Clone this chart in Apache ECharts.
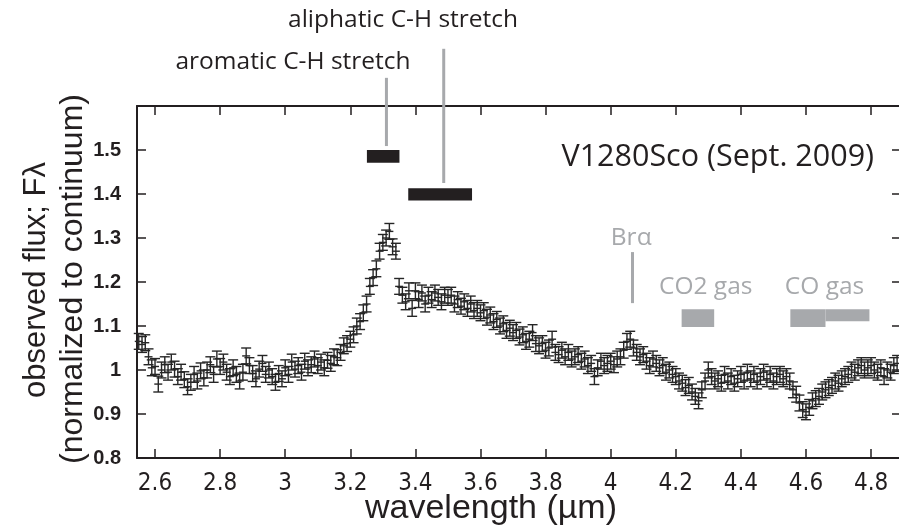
<!DOCTYPE html>
<html>
<head>
<meta charset="utf-8">
<script src="https://cdn.jsdelivr.net/npm/echarts@6/dist/echarts.min.js"></script>
<style>
  html, body { margin: 0; background: #fff; }
  #main { width: 899px; height: 529px; }
</style>
</head>
<body>
<div id="main"></div>
<script>
// wavelength grid (µm) and normalised flux
var wavelength = [
  2.55, 2.56, 2.57, 2.58, 2.59,
  2.60, 2.61, 2.62, 2.63, 2.64, 2.65, 2.66, 2.67, 2.68, 2.69,
  2.70, 2.71, 2.72, 2.73, 2.74, 2.75, 2.76, 2.77, 2.78, 2.79,
  2.80, 2.81, 2.82, 2.83, 2.84, 2.85, 2.86, 2.87, 2.88, 2.89,
  2.90, 2.91, 2.92, 2.93, 2.94, 2.95, 2.96, 2.97, 2.98, 2.99,
  3.00, 3.01, 3.02, 3.03, 3.04, 3.05, 3.06, 3.07, 3.08, 3.09,
  3.10, 3.11, 3.12, 3.13, 3.14, 3.15, 3.16, 3.17, 3.18, 3.19,
  3.20, 3.21, 3.22, 3.23, 3.24, 3.25, 3.26, 3.27, 3.28, 3.29,
  3.30, 3.31, 3.32, 3.33, 3.34, 3.35, 3.36, 3.37, 3.38, 3.39,
  3.40, 3.41, 3.42, 3.43, 3.44, 3.45, 3.46, 3.47, 3.48, 3.49,
  3.50, 3.51, 3.52, 3.53, 3.54, 3.55, 3.56, 3.57, 3.58, 3.59,
  3.60, 3.61, 3.62, 3.63, 3.64, 3.65, 3.66, 3.67, 3.68, 3.69,
  3.70, 3.71, 3.72, 3.73, 3.74, 3.75, 3.76, 3.77, 3.78, 3.79,
  3.80, 3.81, 3.82, 3.83, 3.84, 3.85, 3.86, 3.87, 3.88, 3.89,
  3.90, 3.91, 3.92, 3.93, 3.94, 3.95, 3.96, 3.97, 3.98, 3.99,
  4.00, 4.01, 4.02, 4.03, 4.04, 4.05, 4.06, 4.07, 4.08, 4.09,
  4.10, 4.11, 4.12, 4.13, 4.14, 4.15, 4.16, 4.17, 4.18, 4.19,
  4.20, 4.21, 4.22, 4.23, 4.24, 4.25, 4.26, 4.27, 4.28, 4.29,
  4.30, 4.31, 4.32, 4.33, 4.34, 4.35, 4.36, 4.37, 4.38, 4.39,
  4.40, 4.41, 4.42, 4.43, 4.44, 4.45, 4.46, 4.47, 4.48, 4.49,
  4.50, 4.51, 4.52, 4.53, 4.54, 4.55, 4.56, 4.57, 4.58, 4.59,
  4.60, 4.61, 4.62, 4.63, 4.64, 4.65, 4.66, 4.67, 4.68, 4.69,
  4.70, 4.71, 4.72, 4.73, 4.74, 4.75, 4.76, 4.77, 4.78, 4.79,
  4.80, 4.81, 4.82, 4.83, 4.84, 4.85, 4.86, 4.87, 4.88
];
var flux = [
  1.065, 1.058, 1.062, 1.030, 1.005,
  1.008, 0.968, 1.000, 1.012, 0.995, 1.018, 1.002, 0.985, 0.995, 0.978,
  0.962, 0.972, 0.990, 0.975, 0.998, 0.982, 1.000, 1.012, 0.990, 1.025,
  1.008, 1.018, 0.995, 0.985, 1.005, 0.990, 0.975, 0.995, 1.032, 1.010,
  0.992, 0.980, 1.002, 1.015, 0.990, 1.000, 0.985, 0.972, 0.992, 0.980,
  1.005, 0.990, 1.018, 1.002, 1.010, 0.995, 1.020, 1.005, 1.012, 1.025,
  1.010, 1.018, 1.005, 1.022, 1.015, 1.030, 1.028, 1.040, 1.055, 1.060,
  1.070, 1.080, 1.100, 1.110, 1.130, 1.150, 1.190, 1.210, 1.230, 1.270,
  1.290, 1.300, 1.315, 1.280, 1.270, 1.190, 1.170, 1.155, 1.180, 1.140,
  1.180, 1.160, 1.175, 1.150, 1.170, 1.160, 1.175, 1.165, 1.155, 1.170,
  1.165, 1.170, 1.150, 1.160, 1.145, 1.155, 1.140, 1.150, 1.135, 1.140,
  1.130, 1.135, 1.120, 1.125, 1.110, 1.115, 1.100, 1.105, 1.090, 1.095,
  1.085, 1.090, 1.075, 1.080, 1.065, 1.070, 1.085, 1.060, 1.055, 1.060,
  1.045, 1.050, 1.070, 1.040, 1.035, 1.045, 1.030, 1.040, 1.025, 1.030,
  1.035, 1.020, 1.025, 1.010, 1.015, 0.985, 1.005, 1.020, 1.010, 1.015,
  1.020, 1.012, 1.025, 1.030, 1.045, 1.065, 1.070, 1.050, 1.040, 1.030,
  1.035, 1.020, 1.010, 1.025, 1.015, 1.005, 1.010, 0.995, 1.000, 0.990,
  0.985, 0.975, 0.970, 0.960, 0.965, 0.950, 0.940, 0.930, 0.955, 0.975,
  1.000, 0.985, 0.975, 0.980, 0.970, 0.990, 0.975, 0.985, 0.970, 0.980,
  0.990, 0.975, 0.995, 0.980, 0.990, 0.975, 0.985, 0.995, 0.980, 0.990,
  0.975, 0.985, 0.990, 0.980, 0.985, 0.975, 0.955, 0.945, 0.925, 0.910,
  0.905, 0.915, 0.930, 0.935, 0.940, 0.950, 0.955, 0.960, 0.965, 0.975,
  0.970, 0.980, 0.985, 0.990, 1.000, 0.995, 1.005, 1.010, 1.000, 1.005,
  1.010, 1.000, 0.995, 1.005, 0.985, 1.000, 0.995, 1.010, 1.015
];
var fluxErr = 0.018;

var xTicks = [2.6, 2.8, 3.0, 3.2, 3.4, 3.6, 3.8, 4.0, 4.2, 4.4, 4.6, 4.8];
var xMin = 2.5446, xMax = 4.892;
var yMin = 0.8, yMax = 1.6, yStep = 0.1;

// feature markers: [x0, x1, y0, y1, kind]
var featureBars = [
  [3.251, 3.351, 1.471, 1.500, 'ch'],
  [3.378, 3.574, 1.385, 1.413, 'ch'],
  [4.218, 4.318, 1.098, 1.138, 'gas'],
  [4.552, 4.660, 1.098, 1.138, 'gas'],
  [4.660, 4.795, 1.111, 1.138, 'gas']
];
// vertical pointer lines: [x, yTop, yBottom]
var featureLines = [
  [3.311, 1.664, 1.509],
  [3.487, 1.730, 1.425],
  [4.067, 1.268, 1.152]
];
var featureLabels = [
  { x: 3.362, y: 1.795, text: 'aliphatic C-H stretch', kind: 'ch' },
  { x: 3.024, y: 1.700, text: 'aromatic C-H stretch', kind: 'ch' },
  { x: 4.063, y: 1.300, text: 'Brα', kind: 'gas' },
  { x: 4.292, y: 1.189, text: 'CO2 gas', kind: 'gas' },
  { x: 4.657, y: 1.189, text: 'CO gas', kind: 'gas' },
  { x: 4.329, y: 1.484, text: 'V1280Sco (Sept. 2009)', kind: 'title' }
];

var INK = '#231f20';
var GRAY = '#a7a9ac';
var SANS = '"Liberation Sans", Arial, sans-serif';

var chart = echarts.init(document.getElementById('main'));

function fmt(v) { return String(+v.toFixed(1)); }

var points = flux.map(function (v, i) { return [wavelength[i], v, fluxErr]; });

var option = {
  animation: false,
  backgroundColor: '#fff',
  grid: { left: 137, top: 106, width: 764, height: 352, containLabel: false, outerBoundsMode: 'none' },
  xAxis: [{
    type: 'value', min: xMin, max: xMax, position: 'bottom',
    axisLine: { show: true, onZero: false, lineStyle: { color: INK, width: 2 } },
    axisTick: { show: true, inside: true, length: 9, customValues: xTicks, lineStyle: { color: INK, width: 1.5 } },
    axisLabel: {
      customValues: xTicks, margin: 14, color: INK, fontSize: 24,
      fontFamily: '"Liberation Sans Narrow", "DejaVu Sans Condensed", sans-serif',
      formatter: fmt
    },
    splitLine: { show: false }
  }, {
    type: 'value', min: xMin, max: xMax, position: 'top',
    axisLine: { show: true, onZero: false, lineStyle: { color: INK, width: 2 } },
    axisTick: { show: true, inside: true, length: 9, customValues: xTicks, lineStyle: { color: INK, width: 1.5 } },
    axisLabel: { show: false },
    splitLine: { show: false }
  }],
  yAxis: [{
    type: 'value', min: yMin, max: yMax, interval: yStep, position: 'left',
    axisLine: { show: true, onZero: false, lineStyle: { color: INK, width: 2 } },
    axisTick: { show: true, inside: true, length: 9, lineStyle: { color: INK, width: 1.5 } },
    axisLabel: {
      margin: 16, color: INK, fontSize: 20, fontWeight: 'bold', fontFamily: SANS,
      formatter: function (v) { return v > 1.55 ? '' : fmt(v); }
    },
    splitLine: { show: false }
  }, {
    type: 'value', min: yMin, max: yMax, interval: yStep, position: 'right',
    axisLine: { show: true, onZero: false, lineStyle: { color: INK, width: 2 } },
    axisTick: { show: true, inside: true, length: 9, lineStyle: { color: INK, width: 1.5 } },
    axisLabel: { show: false },
    splitLine: { show: false }
  }],
  graphic: [
    {
      type: 'text', x: 36, y: 280, rotation: Math.PI / 2,
      style: { text: 'observed flux; Fλ', fill: INK, fontSize: 31, fontFamily: SANS,
        align: 'center', verticalAlign: 'middle' }
    },
    {
      type: 'text', x: 73, y: 279, rotation: Math.PI / 2,
      style: { text: '(normalized to continuum)', fill: INK, fontSize: 32, fontFamily: SANS,
        align: 'center', verticalAlign: 'middle' }
    },
    {
      type: 'text', x: 491, y: 509,
      style: { text: 'wavelength (µm)', fill: INK, fontSize: 34, fontFamily: SANS,
        align: 'center', verticalAlign: 'middle' }
    }
  ],
  series: [
    {
      name: 'flux', type: 'custom', xAxisIndex: 0, yAxisIndex: 0,
      data: points,
      renderItem: function (params, api) {
        var x = api.value(0), y = api.value(1), e = api.value(2);
        var top = api.coord([x, y + e]);
        var bot = api.coord([x, y - e]);
        var mid = api.coord([x, y]);
        var cap = 5, tick = 4;
        var st = { stroke: '#262626', lineWidth: 1.4 };
        return {
          type: 'group',
          children: [
            { type: 'line', shape: { x1: top[0], y1: top[1], x2: bot[0], y2: bot[1] }, style: st },
            { type: 'line', shape: { x1: top[0] - cap, y1: top[1], x2: top[0] + cap, y2: top[1] }, style: st },
            { type: 'line', shape: { x1: bot[0] - cap, y1: bot[1], x2: bot[0] + cap, y2: bot[1] }, style: st },
            { type: 'line', shape: { x1: mid[0] - tick, y1: mid[1], x2: mid[0] + tick, y2: mid[1] }, style: st }
          ]
        };
      }
    },
    {
      name: 'bars', type: 'custom', clip: false,
      data: featureBars.map(function (b) { return [b[0], b[1], b[2], b[3]]; }),
      encode: { x: [0, 1], y: [2, 3] },
      renderItem: function (params, api) {
        var b = featureBars[params.dataIndex];
        var p0 = api.coord([b[0], b[3]]);
        var p1 = api.coord([b[1], b[2]]);
        return {
          type: 'rect',
          shape: { x: p0[0], y: p0[1], width: p1[0] - p0[0], height: p1[1] - p0[1] },
          style: { fill: b[4] === 'ch' ? INK : GRAY }
        };
      }
    },
    {
      name: 'pointers', type: 'custom', clip: false,
      data: featureLines,
      encode: { x: 0, y: [1, 2] },
      renderItem: function (params, api) {
        var l = featureLines[params.dataIndex];
        var a = api.coord([l[0], l[1]]);
        var b = api.coord([l[0], l[2]]);
        return {
          type: 'line',
          shape: { x1: a[0], y1: a[1], x2: b[0], y2: b[1] },
          style: { stroke: GRAY, lineWidth: 3 }
        };
      }
    },
    {
      name: 'labels', type: 'custom', clip: false,
      data: featureLabels.map(function (l) { return [l.x, l.y]; }),
      renderItem: function (params, api) {
        var l = featureLabels[params.dataIndex];
        var p = api.coord([l.x, l.y]);
        var size = l.kind === 'title' ? 30.5 : 24.5;
        return {
          type: 'text', x: p[0], y: p[1],
          style: {
            text: l.text, fill: l.kind === 'gas' ? GRAY : INK,
            fontSize: size, fontFamily: '"Open Sans", "Noto Sans", sans-serif',
            align: 'center', verticalAlign: 'middle'
          }
        };
      }
    }
  ]
};

chart.setOption(option);
</script>
</body>
</html>
